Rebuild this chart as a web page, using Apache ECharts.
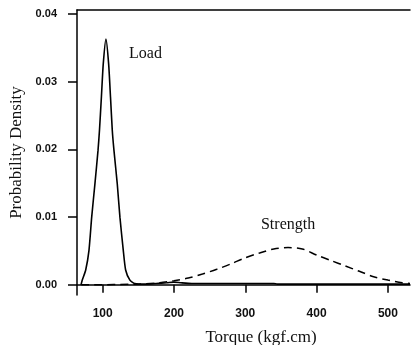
<!DOCTYPE html>
<html>
<head>
<meta charset="utf-8">
<script src="https://cdn.jsdelivr.net/npm/echarts@6/dist/echarts.min.js"></script>
<style>
  html, body { margin: 0; padding: 0; background: #fff; }
  #chart { width: 412px; height: 345px; }
</style>
</head>
<body>
<div id="chart"></div>
<script>
// load curve (solid)
var loadTorque  = [69.6, 71.4, 76.2, 80.8, 84.6, 89.2, 93.5, 95.5, 98.2, 100.8, 104.6,
                   108.4, 111, 113.5, 115.8, 120.4, 124.2, 128.9, 132.2, 138.2, 145, 160,
                   175, 190, 200, 210, 225, 340, 345, 531];
var loadDensity = [0, 0.0007, 0.0022, 0.0051, 0.0100, 0.0150, 0.0199, 0.0228, 0.0277, 0.0326, 0.0363,
                   0.0326, 0.0277, 0.0228, 0.0199, 0.0150, 0.0100, 0.0051, 0.0022, 0.0007, 0.0002, 0.0001,
                   0.0002, 0.0003, 0.0004, 0.0003, 0.0002, 0.0002, 0.0001, 0.0001];

// strength curve (dashed)
var strengthTorque  = [70, 150, 180, 200, 220, 240, 260, 280, 300, 320, 340, 360, 380,
                       400, 420, 440, 460, 480, 500, 520, 531];
var strengthDensity = [0, 0.0001, 0.0003, 0.0006, 0.0010, 0.0016, 0.0023, 0.0031, 0.0040, 0.0047, 0.0053, 0.0055, 0.0053,
                       0.0044, 0.0036, 0.0028, 0.0020, 0.0012, 0.0007, 0.0003, 0.0002];

// axis ticks
var xTicks = [100, 200, 300, 400, 500];
var yTicks = [0, 0.01, 0.02, 0.03, 0.04];

// curve labels
var notes = [
  { name: 'Load', coord: [160, 0.0341] },
  { name: 'Strength', coord: [360, 0.0088] }
];

function pairs(xs, ys) {
  return xs.map(function (x, i) { return [x, ys[i]]; });
}

var chart = echarts.init(document.getElementById('chart'));

var tickFont = { color: '#111', fontWeight: 'bold', fontFamily: 'Liberation Sans' };
var frameLine = { show: true, lineStyle: { color: '#000', width: 1.5 } };

var option = {
  animation: false,
  grid: { left: 77, top: 10, right: 2, bottom: 50, outerBoundsMode: 'none' },
  xAxis: [{
    type: 'value',
    min: 64, max: 531,
    name: 'Torque (kgf.cm)',
    nameLocation: 'middle',
    nameGap: 34,
    nameTextStyle: { color: '#111', fontSize: 17, fontFamily: 'Liberation Serif', padding: [0, 0, 0, 35] },
    axisLine: frameLine,
    axisTick: { show: true, length: 8, lineStyle: { color: '#000', width: 1.5 }, customValues: xTicks },
    axisLabel: Object.assign({ margin: 13, fontSize: 12, customValues: xTicks }, tickFont),
    splitLine: { show: false }
  }, {
    // top edge of the box
    type: 'value', position: 'top',
    min: 64, max: 531,
    axisLine: frameLine,
    axisTick: { show: false }, axisLabel: { show: false }, splitLine: { show: false }
  }],
  yAxis: {
    type: 'value',
    min: -0.0015, max: 0.0406,
    name: 'Probability Density',
    nameLocation: 'middle',
    nameGap: 48,
    nameTextStyle: { color: '#111', fontSize: 17, fontFamily: 'Liberation Serif' },
    axisLine: frameLine,
    axisTick: { show: true, length: 9, lineStyle: { color: '#000', width: 1.5 }, customValues: yTicks },
    axisLabel: Object.assign({
      margin: 20,
      fontSize: 11,
      customValues: yTicks,
      formatter: function (v) { return v.toFixed(2); }
    }, tickFont),
    splitLine: { show: false }
  },
  series: [
    {
      name: 'Load',
      type: 'line',
      data: pairs(loadTorque, loadDensity),
      smooth: 0.2,
      showSymbol: false,
      lineStyle: { color: '#000', width: 1.6 },
      markPoint: {
        symbol: 'circle', symbolSize: 0,
        label: { show: true, formatter: '{b}', color: '#111', fontSize: 16, fontFamily: 'Liberation Serif' },
        data: [notes[0]]
      }
    },
    {
      name: 'Strength',
      type: 'line',
      data: pairs(strengthTorque, strengthDensity),
      smooth: 0.3,
      showSymbol: false,
      lineStyle: { color: '#000', width: 1.5, type: [8, 5] },
      markPoint: {
        symbol: 'circle', symbolSize: 0,
        label: { show: true, formatter: '{b}', color: '#111', fontSize: 16, fontFamily: 'Liberation Serif' },
        data: [notes[1]]
      }
    }
  ]
};

chart.setOption(option);
</script>
</body>
</html>
